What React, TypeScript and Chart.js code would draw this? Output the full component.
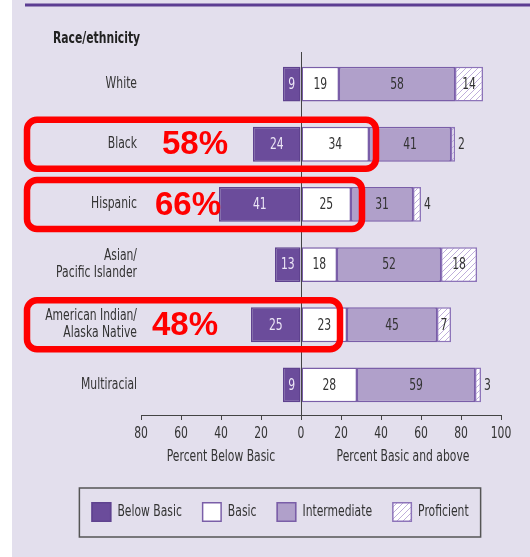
import React, { useEffect, useRef } from "react";
import { Chart, registerables } from "chart.js";

Chart.register(...registerables);

// ---------- data ----------
const categories: (string | string[])[] = [
  "White",
  "Black",
  "Hispanic",
  ["Asian/", "Pacific Islander"],
  ["American Indian/", "Alaska Native"],
  "Multiracial",
];
const belowBasic = [9, 24, 41, 13, 25, 9];
const basic = [19, 34, 25, 18, 23, 28];
const intermediate = [58, 41, 31, 52, 45, 59];
const proficient = [14, 2, 4, 18, 7, 3];
const seriesNames = ["Below Basic", "Basic", "Intermediate", "Proficient"];
const xMin = -80;
const xMax = 100;
const xStep = 20;
const groupTitle = "Race/ethnicity";
const leftAxisTitle = "Percent Below Basic";
const rightAxisTitle = "Percent Basic and above";
const highlightedRows = [1, 2, 4];
const highlightLabels = ["58%", "66%", "48%"];

// ---------- styles ----------
const FONT = "'DejaVu Sans Condensed', 'Liberation Sans Narrow', sans-serif";
const SX = 0.8; // horizontal compression to mimic a condensed face
const BG = "#e3dfed";
const DARK = "#6b4c9b";
const DARK_BORDER = "#5f428f";
const LIGHT = "#b0a0ca";
const BORDER = "#7a5ea8";
const HATCH_BORDER = "#8d74b9";
const TEXT = "#333333";

function makeHatch(): CanvasPattern | string {
  const c = document.createElement("canvas");
  c.width = 6;
  c.height = 6;
  const g = c.getContext("2d");
  if (!g) return "#ffffff";
  g.fillStyle = "#ffffff";
  g.fillRect(0, 0, 6, 6);
  g.strokeStyle = "#bfaedb";
  g.lineWidth = 1;
  g.beginPath();
  g.moveTo(0, 6);
  g.lineTo(6, 0);
  g.moveTo(-1, 1);
  g.lineTo(1, -1);
  g.moveTo(5, 7);
  g.lineTo(7, 5);
  g.stroke();
  return g.createPattern(c, "repeat") || "#ffffff";
}

function roundRect(ctx: CanvasRenderingContext2D, x: number, y: number, w: number, h: number, r: number) {
  ctx.beginPath();
  ctx.moveTo(x + r, y);
  ctx.lineTo(x + w - r, y);
  ctx.arcTo(x + w, y, x + w, y + r, r);
  ctx.lineTo(x + w, y + h - r);
  ctx.arcTo(x + w, y + h, x + w - r, y + h, r);
  ctx.lineTo(x + r, y + h);
  ctx.arcTo(x, y + h, x, y + h - r, r);
  ctx.lineTo(x, y + r);
  ctx.arcTo(x, y, x + r, y, r);
  ctx.closePath();
}

function text(
  ctx: CanvasRenderingContext2D,
  s: string,
  x: number,
  y: number,
  align: CanvasTextAlign,
  font: string,
  color: string,
  sx: number = SX
) {
  ctx.save();
  ctx.translate(x, y);
  ctx.scale(sx, 1);
  ctx.font = font;
  ctx.fillStyle = color;
  ctx.textAlign = align;
  ctx.textBaseline = "middle";
  ctx.fillText(s, 0, 0);
  ctx.restore();
}

function textWidth(ctx: CanvasRenderingContext2D, s: string, font: string, sx: number = SX) {
  ctx.save();
  ctx.font = font;
  const w = ctx.measureText(s).width * sx;
  ctx.restore();
  return w;
}

export default function App() {
  const ref = useRef<HTMLCanvasElement | null>(null);

  useEffect(() => {
    document.body.style.margin = "0";
    const canvas = ref.current;
    if (!canvas) return;
    const hatch = makeHatch();
    const fills: any[] = [DARK, "#ffffff", LIGHT, hatch];
    const borders = [DARK_BORDER, BORDER, BORDER, HATCH_BORDER];
    const series = [belowBasic.map((v) => -v), basic, intermediate, proficient];
    const raw = [belowBasic, basic, intermediate, proficient];
    const F15 = `15px ${FONT}`;

    const decor = {
      id: "decor",
      beforeDraw(chart: any) {
        const ctx = chart.ctx as CanvasRenderingContext2D;
        ctx.save();
        ctx.fillStyle = "#ffffff";
        ctx.fillRect(0, 0, chart.width, chart.height);
        ctx.fillStyle = BG;
        ctx.fillRect(12, 0, chart.width - 12, chart.height);
        ctx.fillStyle = "#5c3d92";
        ctx.fillRect(25, 3.5, chart.width - 25, 3);
        ctx.restore();
      },
      afterDatasetsDraw(chart: any) {
        const ctx = chart.ctx as CanvasRenderingContext2D;
        const xs = chart.scales.x;
        const ys = chart.scales.y;
        const area = chart.chartArea;
        ctx.save();
        // zero line
        const x0 = Math.round(xs.getPixelForValue(0)) + 0.5;
        ctx.strokeStyle = "#444444";
        ctx.lineWidth = 1;
        ctx.beginPath();
        ctx.moveTo(x0, 52);
        ctx.lineTo(x0, area.bottom);
        ctx.stroke();

        // value labels
        for (let d = 0; d < series.length; d++) {
          const meta = chart.getDatasetMeta(d);
          meta.data.forEach((el: any, i: number) => {
            const v = raw[d][i];
            const left = Math.min(el.x, el.base);
            const right = Math.max(el.x, el.base);
            const col = d === 0 ? "#ece6f6" : TEXT;
            if (d === 3 && v < 5) {
              text(ctx, String(v), right + 3, el.y + 1, "left", F15, col);
            } else {
              text(ctx, String(v), (left + right) / 2, el.y + 1, "center", F15, col);
            }
          });
        }

        // highlight boxes
        const boxRight = [376, 362, 340];
        const textLeft = [162, 155, 152];
        highlightedRows.forEach((row, k) => {
          const cy = ys.getPixelForValue(row);
          ctx.strokeStyle = "#ff0000";
          ctx.lineWidth = 6.5;
          roundRect(ctx, 27, cy - 24.5, boxRight[k] - 27, 49, 10);
          ctx.stroke();
          text(ctx, highlightLabels[k], textLeft[k], cy + 1, "left", `bold 33px 'Liberation Sans', Arial, sans-serif`, "#ff0000", 1);
        });
        ctx.restore();
      },
      afterDraw(chart: any) {
        const ctx = chart.ctx as CanvasRenderingContext2D;
        const xs = chart.scales.x;
        const ys = chart.scales.y;
        ctx.save();
        text(ctx, groupTitle, 53, 39, "left", `bold 15px ${FONT}`, "#222222");

        // category labels
        const lh = 16.5;
        categories.forEach((lab, i) => {
          const lines = Array.isArray(lab) ? lab : [lab];
          const cy = ys.getPixelForValue(i);
          const y0 = cy - ((lines.length - 1) * lh) / 2;
          lines.forEach((ln, j) => text(ctx, ln, 137, y0 + j * lh, "right", F15, TEXT));
        });

        // x tick labels
        xs.ticks.forEach((t: any) => {
          text(ctx, String(Math.abs(t.value)), xs.getPixelForValue(t.value), 434, "center", F15, TEXT);
        });

        text(ctx, leftAxisTitle, xs.getPixelForValue(-40), 457, "center", F15, TEXT);
        text(ctx, rightAxisTitle, (xs.getPixelForValue(0) + xs.getPixelForValue(xMax)) / 2 + 2, 457, "center", F15, TEXT);

        // legend
        const sw = 20;
        const gapText = 6;
        const gapItem = 20;
        const widths = seriesNames.map((n) => textWidth(ctx, n, F15));
        const total = widths.reduce((a, w) => a + sw + gapText + w, 0) + gapItem * (seriesNames.length - 1);
        const centerX = 280;
        const boxPad = 12;
        const bx = centerX - total / 2 - boxPad;
        const bw = total + boxPad * 2;
        ctx.strokeStyle = "#555555";
        ctx.lineWidth = 1.5;
        ctx.strokeRect(bx, 488, bw, 49);
        let x = centerX - total / 2;
        const cy = 512;
        seriesNames.forEach((n, i) => {
          ctx.fillStyle = fills[i];
          ctx.fillRect(x, cy - sw / 2, sw, sw);
          ctx.strokeStyle = borders[i];
          ctx.lineWidth = 1.5;
          ctx.strokeRect(x + 0.75, cy - sw / 2 + 0.75, sw - 1.5, sw - 1.5);
          text(ctx, n, x + sw + gapText, cy, "left", F15, TEXT);
          x += sw + gapText + widths[i] + gapItem;
        });
        ctx.restore();
      },
    };

    const chart = new Chart(canvas, {
      type: "bar",
      data: {
        labels: categories as any,
        datasets: seriesNames.map((name, d) => ({
          label: name,
          data: series[d],
          backgroundColor: fills[d],
          borderColor: borders[d],
          borderWidth: 1.5,
          borderSkipped: false,
          barPercentage: 0.58,
          categoryPercentage: 1,
        })),
      },
      options: {
        indexAxis: "y",
        responsive: false,
        animation: false,
        devicePixelRatio: 1,
        layout: { padding: { top: 54, right: 29, left: 0, bottom: 0 } },
        plugins: { legend: { display: false }, tooltip: { enabled: false } },
        scales: {
          x: {
            type: "linear",
            stacked: true,
            min: xMin,
            max: xMax,
            ticks: { stepSize: xStep, display: false },
            grid: { drawOnChartArea: false, drawTicks: true, tickLength: 5, color: "#444444", lineWidth: 1 },
            border: { color: "#444444", width: 1 },
            afterFit: (s: any) => {
              s.height = 142;
            },
          },
          y: {
            type: "category",
            stacked: true,
            grid: { display: false, drawTicks: false },
            border: { display: false },
            ticks: { display: false },
            afterFit: (s: any) => {
              s.width = 141;
            },
          },
        },
      },
      plugins: [decor],
    } as any);

    return () => chart.destroy();
  }, []);

  return (
    <div style={{ width: 530, height: 557, position: "relative", overflow: "hidden" }}>
      <canvas ref={ref} width={530} height={557} style={{ display: "block", width: 530, height: 557 }} />
    </div>
  );
}
